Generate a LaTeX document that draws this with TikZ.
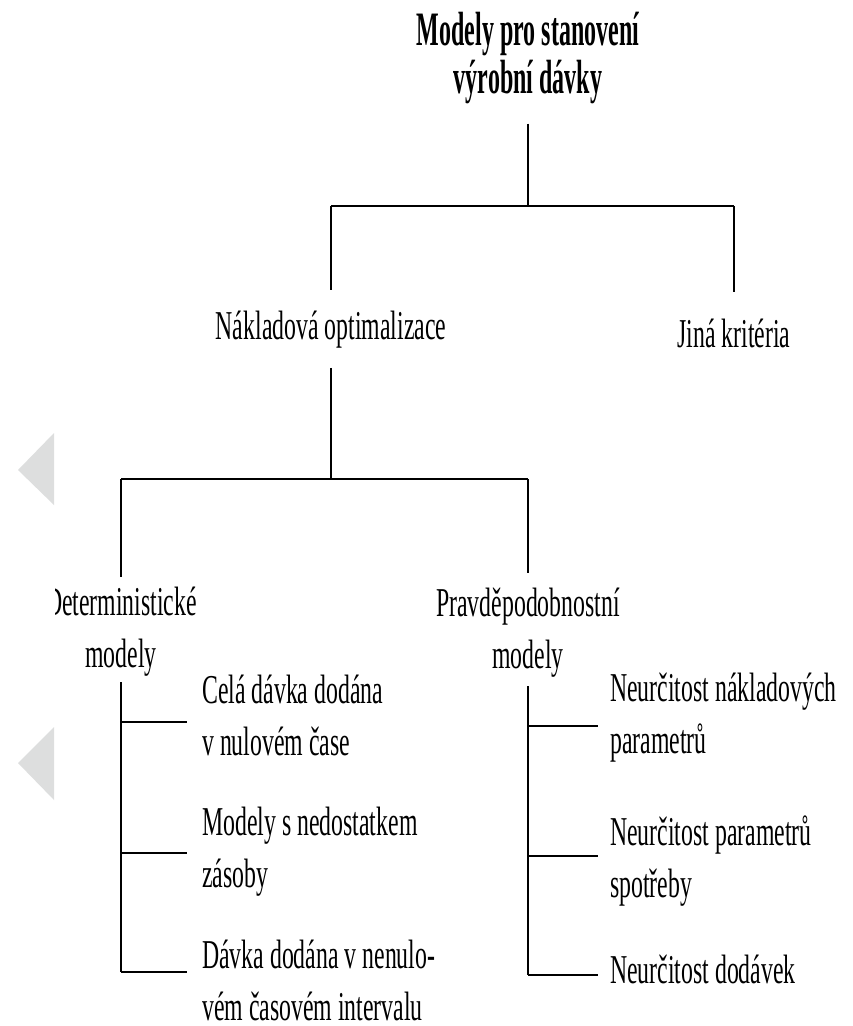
\documentclass[tikz,border=0pt]{standalone}
\usepackage{fontspec}
\setmainfont{Liberation Serif}[FakeStretch=0.58]
\newfontfamily\headfont{Liberation Serif}[FakeStretch=0.5]
\definecolor{navgrey}{RGB}{221,222,222}

\tikzset{
  head/.style={font=\headfont\bfseries\fontsize{48}{48}\selectfont, align=center, inner sep=0pt, anchor=base},
  cat/.style={font=\fontsize{41}{52}\selectfont, align=center, inner sep=0pt, anchor=base},
  leaf/.style={font=\fontsize{41}{52}\selectfont, align=left, inner sep=0pt, anchor=base west},
  stem/.style={line width=1.3pt},
  bar/.style={line width=2.5pt},
  twig/.style={line width=2pt},
}

\begin{document}
\begin{tikzpicture}[x=1pt, y=-1pt]
    \useasboundingbox (0,0) rectangle (852,1026);

    % grey marks in the left margin
    \fill[navgrey] (18,470) -- (54,433) -- (54,505) -- cycle;
    \fill[navgrey] (18,763) -- (54,727) -- (54,800) -- cycle;

    \begin{scope}
    \clip (55,0) rectangle (852,1026);

    % base = baseline of the last line
    \node[head](0) at (528,93) {Modely pro stanovení\\výrobní dávky};
    \node[cat](1) at (331,339) {Nákladová optimalizace};
    \node[cat](2) at (734,347) {Jiná kritéria};
    \node[cat](3) at (121,667) {Deterministické\\modely};
    \node[cat](4) at (528,668) {Pravděpodobnostní\\modely};

    \node[leaf](5) at (202,755) {Celá dávka dodána\\v nulovém čase};
    \node[leaf](6) at (202,887) {Modely s nedostatkem\\zásoby};
    \node[leaf](7) at (202,1020) {Dávka dodána v nenulo-\\vém časovém intervalu};
    \node[leaf](8) at (610,753) {Neurčitost nákladových\\parametrů};
    \node[leaf](9) at (610,897) {Neurčitost parametrů\\spotřeby};
    \node[leaf](10) at (610,983) {Neurčitost dodávek};

    % junction heights and branch ends
    \coordinate (a) at (528,206);
    \coordinate (b) at (331,479);
    \coordinate (c1) at (187,722);
    \coordinate (c2) at (187,853);
    \coordinate (c3) at (187,972);
    \coordinate (d1) at (598,726);
    \coordinate (d2) at (598,856);
    \coordinate (d3) at (598,975);

    \draw[stem, shorten <=20pt](0.south)--(0.south |- a);
    \draw[bar](1.north |- a)--(2.north |- a);
    \draw[stem, shorten >=20pt](1.north |- a)--(1.north);
    \draw[stem, shorten >=26pt](2.north |- a)--(2.north);

    \draw[stem, shorten <=20pt](1.south)--(1.south |- b);
    \draw[bar](3.north |- b)--(4.north |- b);
    \draw[stem, shorten >=9pt](3.north |- b)--(3.north);
    \draw[stem, shorten >=14pt](4.north |- b)--(4.north);

    \draw[stem, shorten <=6pt](3.south)--(3.south |- c3);
    \foreach \c in {c1,c2,c3}
        \draw[twig](3.south |- \c)--(\c);
    \draw[stem, shorten <=9pt](4.south)--(4.south |- d3);
    \foreach \d in {d1,d2,d3}
        \draw[twig](4.south |- \d)--(\d);
    \end{scope}
\end{tikzpicture}
\end{document}
